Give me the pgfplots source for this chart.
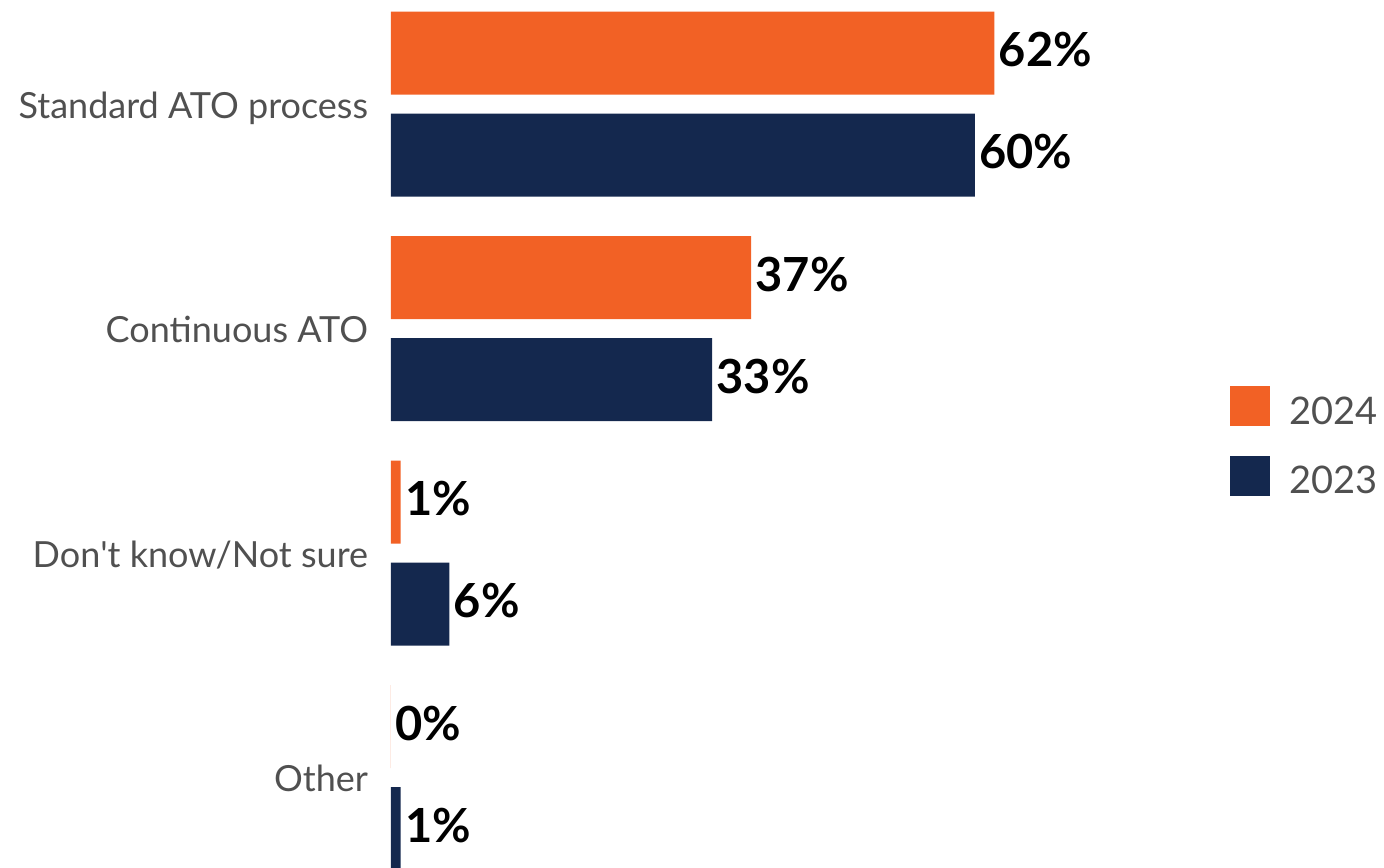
\documentclass[border=0pt]{standalone}
\usepackage{fontspec}
\setmainfont{Lato}
\usepackage{pgfplots}
\pgfplotsset{compat=1.18}
\definecolor{orng}{HTML}{F26125}
\definecolor{navy}{HTML}{14284E}
\definecolor{txtgray}{HTML}{505050}
\begin{document}
\begin{tikzpicture}
\useasboundingbox (-195.5pt,0pt) rectangle (496.5pt,433.5pt);
\begin{axis}[
  scale only axis,
  width=400pt, height=433.5pt,
  xmin=0, xmax=82.2,
  ymin=0, ymax=867,
  y dir=reverse,
  clip=false,
  axis line style={draw=none},
  tick style={draw=none},
  xtick=\empty,
  ytick={104,328.5,553,777.5},
  yticklabels={Standard ATO process,Continuous ATO,Don\textquotesingle t know/Not sure,Other},
  yticklabel style={font=\fontsize{18pt}{21pt}\selectfont, text=txtgray, inner sep=0pt, anchor=base east, xshift=-7pt, yshift=-7pt},
  xbar, bar shift=0pt, bar width=41.5pt,
  nodes near coords={\pgfmathprintnumber[assume math mode=true]{\pgfplotspointmeta}\%},
  point meta=x,
  every node near coord/.append style={font=\bfseries\fontsize{23.5pt}{28pt}\selectfont, text=black, anchor=west, inner xsep=2pt, yshift=1.5pt},
  legend style={at={(1.04875,0.5548)}, anchor=north west, draw=none, fill=none, font=\fontsize{19pt}{23pt}\selectfont, text=txtgray, inner sep=0pt, row sep=12pt, /tikz/every odd column/.append style={column sep=7.5pt}},
  legend image code/.code={\fill[#1,draw=none] (0pt,-7pt) rectangle (20pt,13pt);},
]
\addplot[fill=orng, draw=none] coordinates {(62,53) (37,277.5) (1,502) (0,726.5)};
\addlegendentry{2024}
\addplot[fill=navy, draw=none] coordinates {(60,155) (33,379.5) (6,604) (1,828.5)};
\addlegendentry{2023}
\end{axis}
\end{tikzpicture}
\end{document}
